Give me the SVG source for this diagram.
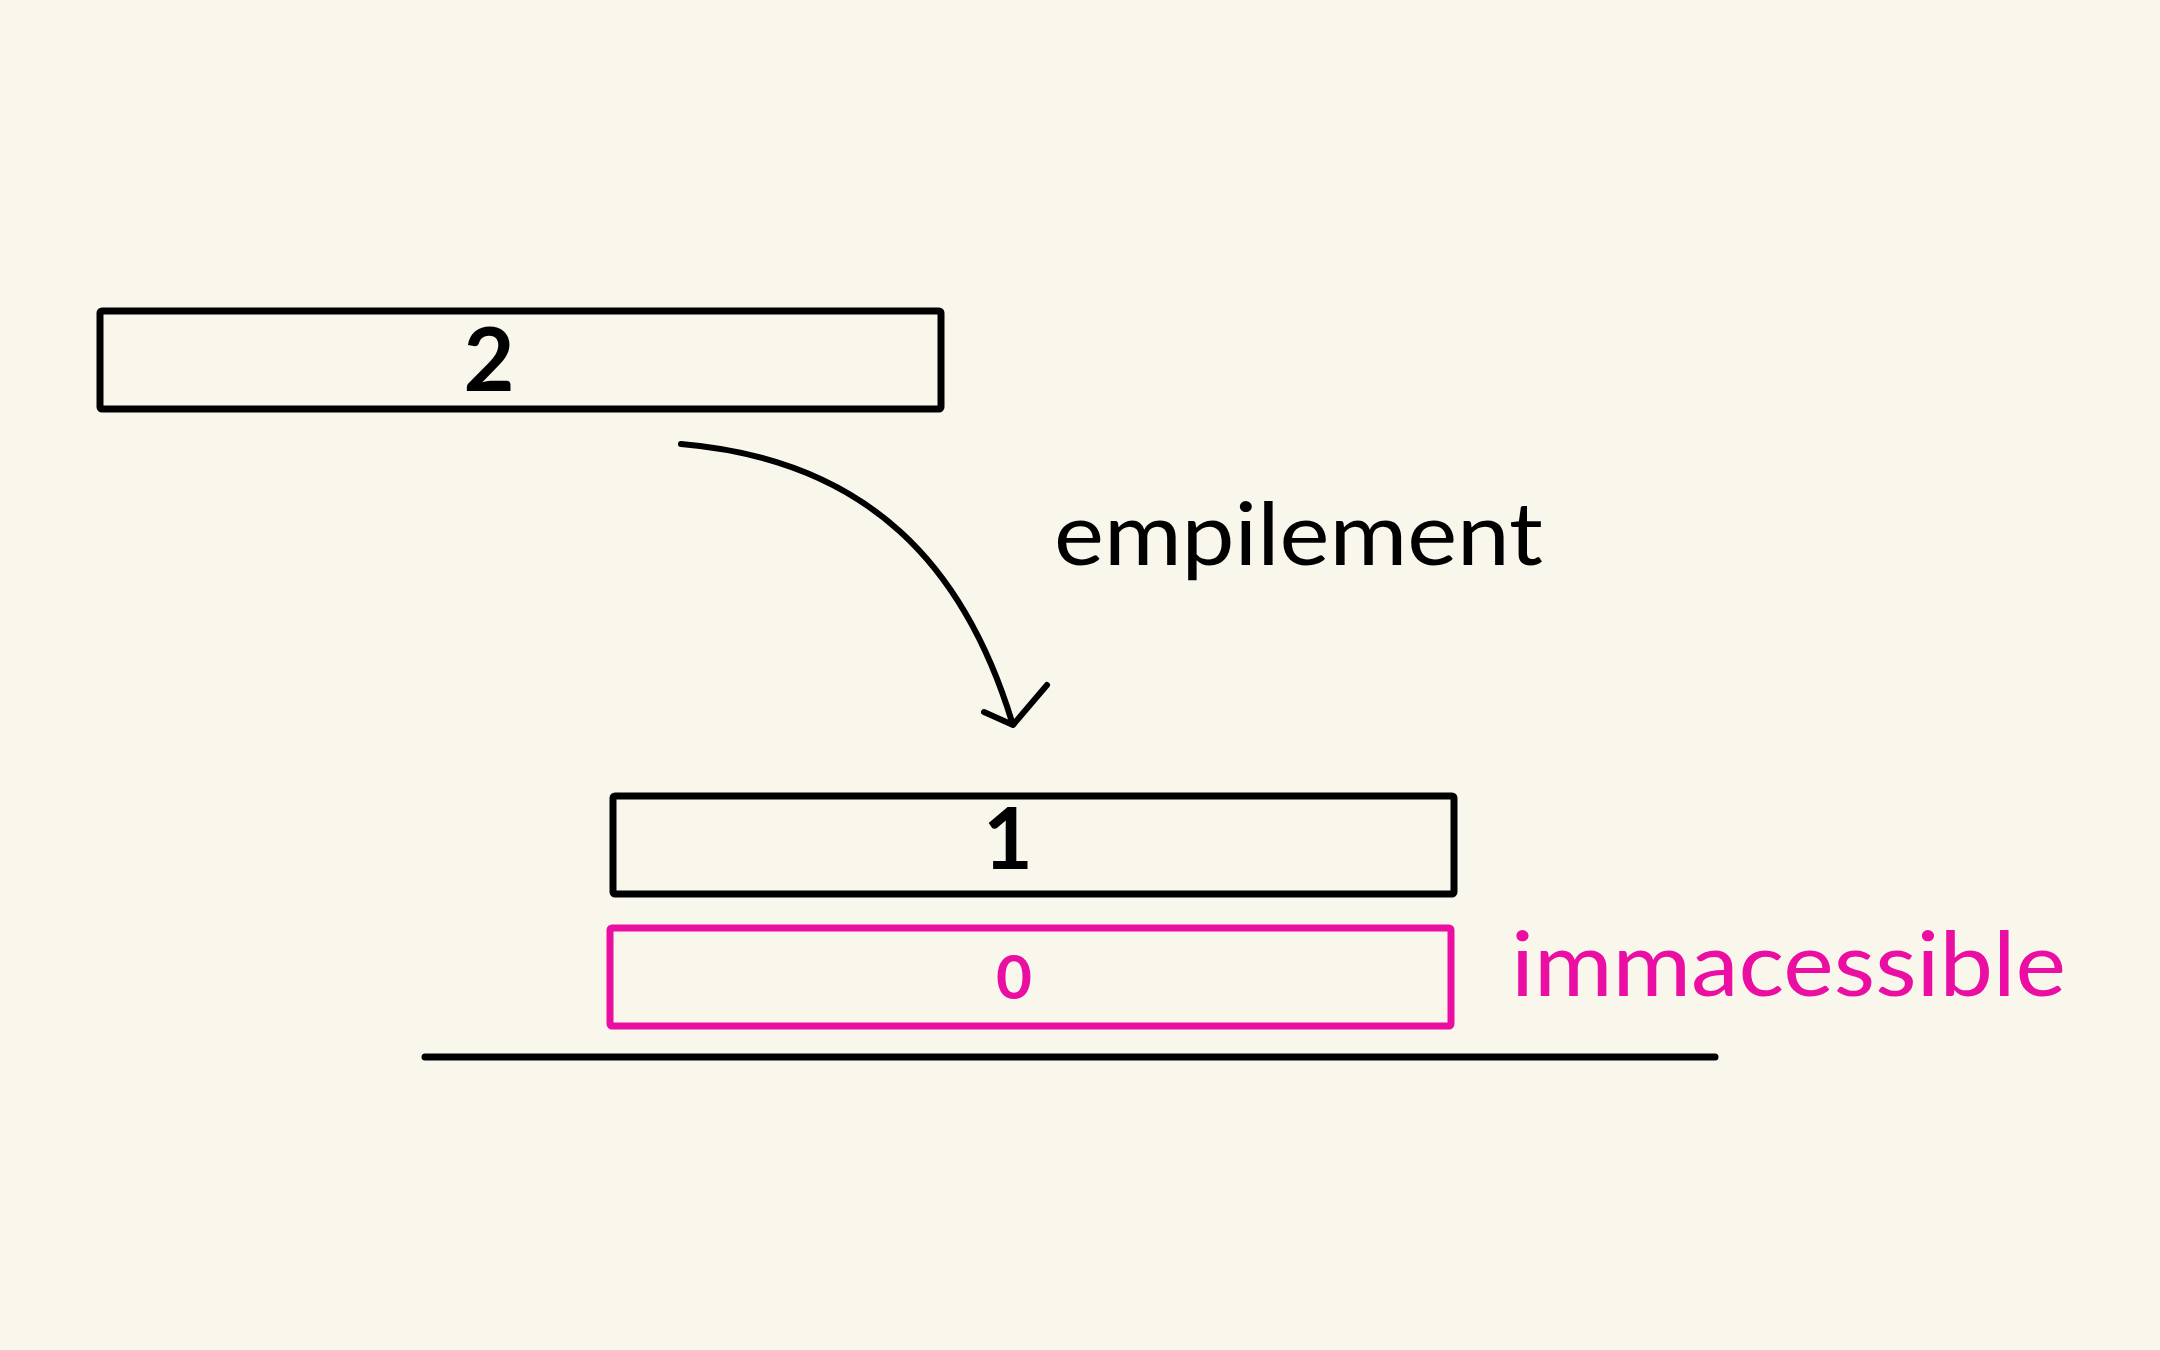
<svg xmlns="http://www.w3.org/2000/svg" width="2160" height="1350" viewBox="0 0 2160 1350">
<style>
.box{fill:none;stroke:#000;stroke-width:7;stroke-linejoin:round}
.pink{stroke:#ea0fa2}
.num{font-family:"Lato","Liberation Sans",sans-serif;font-weight:bold;text-anchor:middle;fill:#000}
.lbl{font-family:"Lato","Liberation Sans",sans-serif;fill:#000}
.conn{fill:none;stroke:#000;stroke-width:6;stroke-linecap:round;stroke-linejoin:round}
</style>
<rect width="2160" height="1350" fill="#f9f7ec"/>
<g id="node-2">
<rect class="box" x="100" y="311" width="841" height="98" rx="2"/>
<text class="num" x="489" y="391" font-size="88">2</text>
</g>
<g id="node-1">
<rect class="box" x="613" y="796" width="841" height="98" rx="2"/>
<text class="num" x="1008" y="869" font-size="86">1</text>
</g>
<g id="node-0">
<rect class="box pink" x="610" y="928" width="841" height="98" rx="2"/>
<text class="num" x="1014" y="999" font-size="62" style="fill:#ea0fa2">0</text>
</g>
<g id="ground">
<line x1="425" y1="1057" x2="1715" y2="1057" stroke="#000" stroke-width="7" stroke-linecap="round"/>
</g>
<g id="label-empilement">
<text class="lbl" x="1054" y="565" font-size="88" textLength="489" lengthAdjust="spacingAndGlyphs">empilement</text>
</g>
<g id="label-immacessible">
<text class="lbl" x="1511" y="996" font-size="90" style="fill:#ea0fa2" textLength="555" lengthAdjust="spacingAndGlyphs">immacessible</text>
</g>
<g id="connectors">
<path class="conn" d="M681,444 C870,460 965,568 1012,722"/>
<path class="conn" d="M984,712 L1013,725 L1047,685"/>
</g>
</svg>
